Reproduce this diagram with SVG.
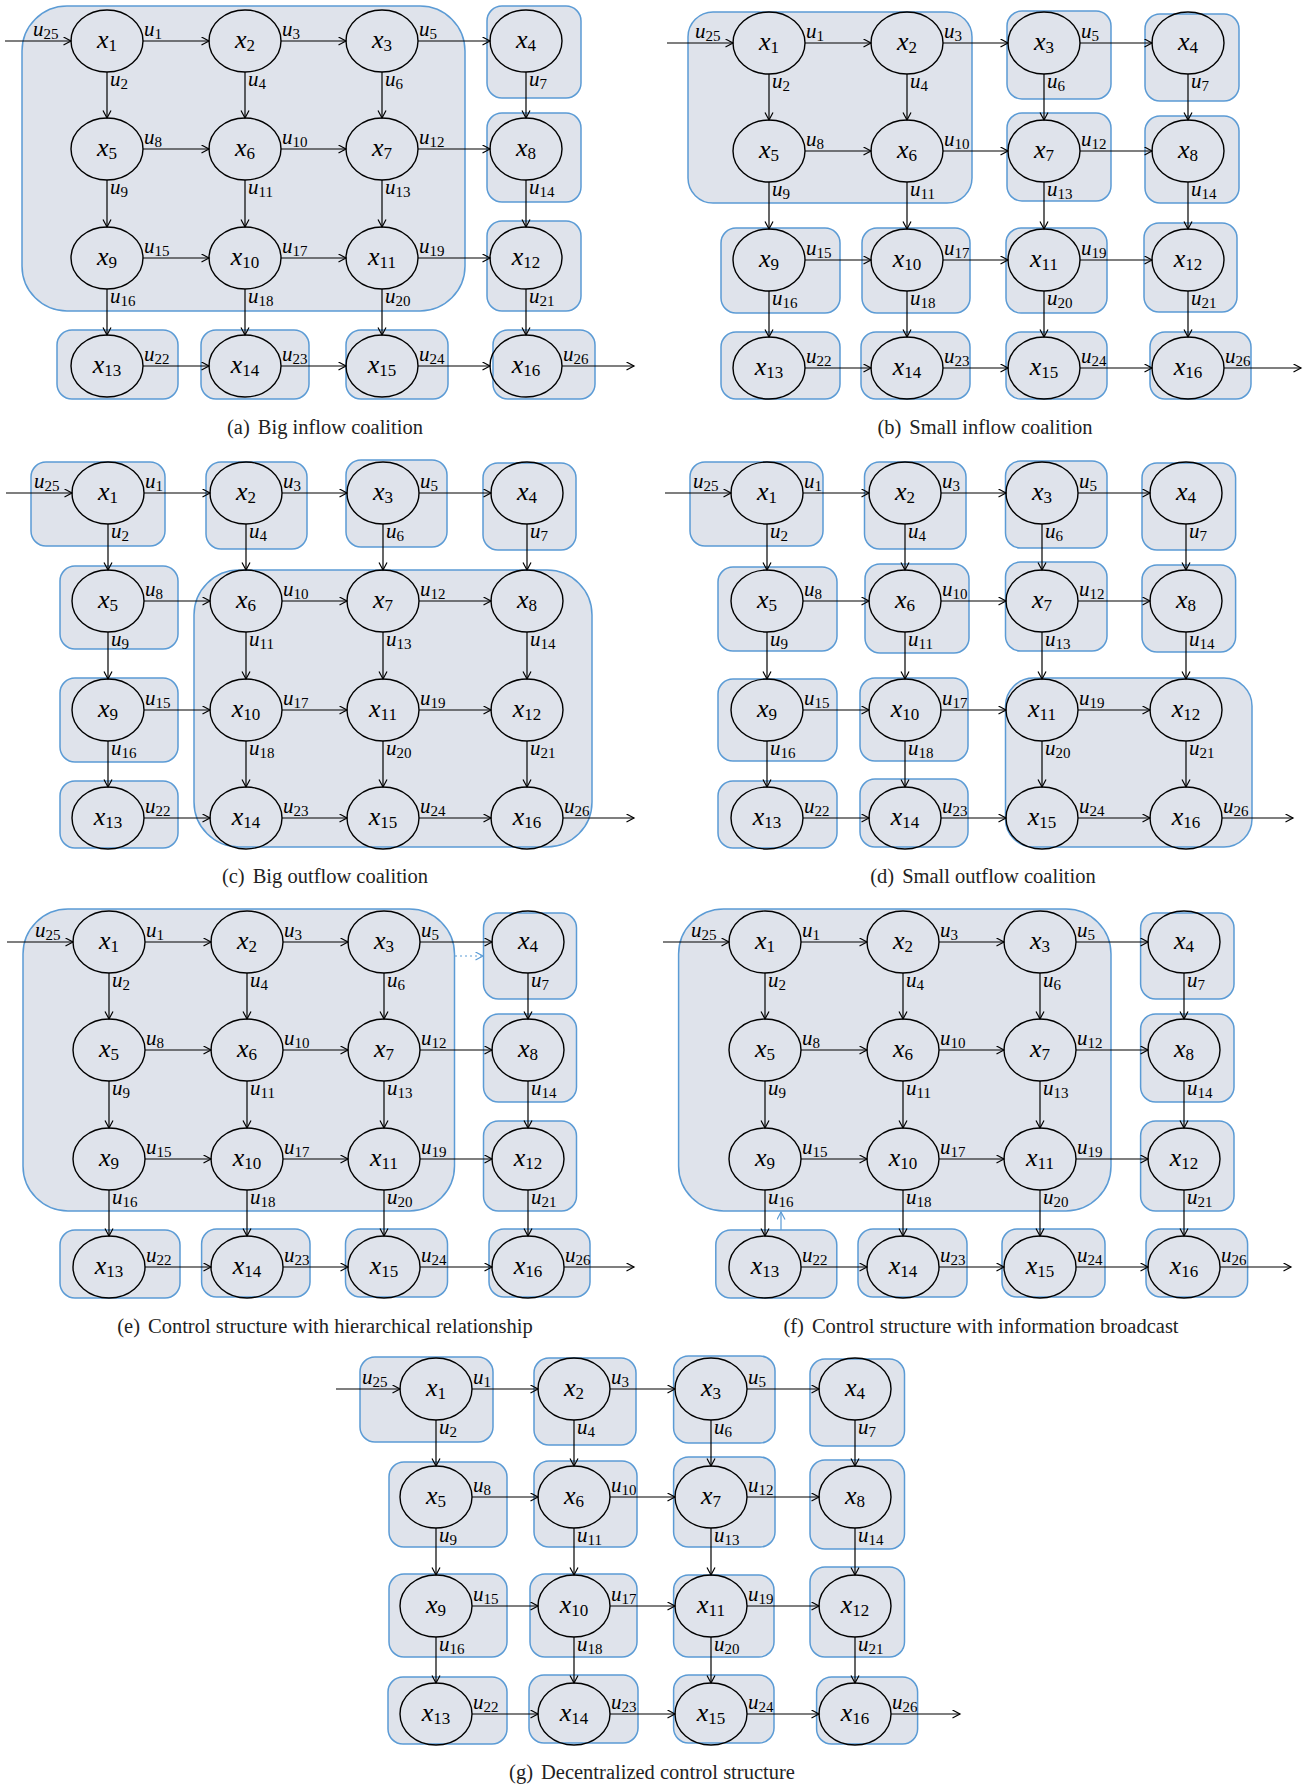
<svg xmlns="http://www.w3.org/2000/svg" width="1308" height="1785" viewBox="0 0 1308 1785">
<defs>
<style>
.bx{fill:#dfe3eb;stroke:#5b9bd5;stroke-width:1.5}
.c path{fill:none;stroke:#000;stroke-width:1.2;marker-end:url(#ah)}
.c path.bl{stroke:#5b9bd5;marker-end:url(#ahb)}
.c path.dt{stroke-dasharray:2 3}
.c text{font-family:"Liberation Serif",serif;font-style:italic;font-size:21px;fill:#000}
.c tspan{font-style:normal;font-size:15px}
.nd ellipse{fill:none;stroke:#000;stroke-width:1.4}
.nd text{font-family:"Liberation Serif",serif;font-style:italic;font-size:26px;text-anchor:middle;fill:#000}
.nd tspan{font-style:normal;font-size:17px}
.cap{font-family:"Liberation Serif",serif;font-size:20.5px;text-anchor:middle;fill:#222}
</style>
<marker id="ah" markerWidth="10" markerHeight="10" refX="8" refY="4.5" orient="auto" markerUnits="userSpaceOnUse"><path d="M0.5,0.5 L8,4.5 L0.5,8.5" fill="none" stroke="#000" stroke-width="1.2"/></marker>
<marker id="ahb" markerWidth="10" markerHeight="10" refX="8" refY="4.5" orient="auto" markerUnits="userSpaceOnUse"><path d="M0.5,0.5 L8,4.5 L0.5,8.5" fill="none" stroke="#5b9bd5" stroke-width="1.2"/></marker>
</defs>
<rect width="1308" height="1785" fill="#fff"/>

<!-- Panel (a) -->
<g id="panel-a" transform="translate(107,41)">
<g id="a-coalitions">
<rect class="bx" x="-85" y="-35" width="443" height="305" rx="45"/>
<rect class="bx" x="380" y="-35" width="94" height="92" rx="15"/>
<rect class="bx" x="380" y="72" width="94" height="89" rx="15"/>
<rect class="bx" x="380" y="180" width="94" height="90" rx="15"/>
<rect class="bx" x="-50" y="289" width="121" height="69" rx="15"/>
<rect class="bx" x="94" y="289" width="108" height="69" rx="15"/>
<rect class="bx" x="239" y="289" width="102" height="69" rx="15"/>
<rect class="bx" x="386" y="289" width="102" height="69" rx="15"/>
</g>
<g id="a-connectors" class="c">
<path d="M-102 0H-36"/><path d="M36 0H102"/><path d="M174 0H239"/><path d="M311 0H383"/>
<path d="M36 108H102"/><path d="M174 108H239"/><path d="M311 108H383"/>
<path d="M36 217H102"/><path d="M174 217H239"/><path d="M311 217H383"/>
<path d="M36 325H102"/><path d="M174 325H239"/><path d="M311 325H383"/><path d="M455 325H527"/>
<path d="M0 31V77"/><path d="M138 31V77"/><path d="M275 31V77"/><path d="M419 31V77"/>
<path d="M0 139V186"/><path d="M138 139V186"/><path d="M275 139V186"/><path d="M419 139V186"/>
<path d="M0 248V294"/><path d="M138 248V294"/><path d="M275 248V294"/><path d="M419 248V294"/>
<text x="-74" y="-5">u<tspan dy="3">25</tspan></text>
<text x="37" y="-5">u<tspan dy="3">1</tspan></text><text x="175" y="-5">u<tspan dy="3">3</tspan></text><text x="312" y="-5">u<tspan dy="3">5</tspan></text>
<text x="3" y="45">u<tspan dy="3">2</tspan></text><text x="141" y="45">u<tspan dy="3">4</tspan></text><text x="278" y="45">u<tspan dy="3">6</tspan></text><text x="422" y="45">u<tspan dy="3">7</tspan></text>
<text x="37" y="103">u<tspan dy="3">8</tspan></text><text x="175" y="103">u<tspan dy="3">10</tspan></text><text x="312" y="103">u<tspan dy="3">12</tspan></text>
<text x="3" y="153">u<tspan dy="3">9</tspan></text><text x="141" y="153">u<tspan dy="3">11</tspan></text><text x="278" y="153">u<tspan dy="3">13</tspan></text><text x="422" y="153">u<tspan dy="3">14</tspan></text>
<text x="37" y="212">u<tspan dy="3">15</tspan></text><text x="175" y="212">u<tspan dy="3">17</tspan></text><text x="312" y="212">u<tspan dy="3">19</tspan></text>
<text x="3" y="262">u<tspan dy="3">16</tspan></text><text x="141" y="262">u<tspan dy="3">18</tspan></text><text x="278" y="262">u<tspan dy="3">20</tspan></text><text x="422" y="262">u<tspan dy="3">21</tspan></text>
<text x="37" y="320">u<tspan dy="3">22</tspan></text><text x="175" y="320">u<tspan dy="3">23</tspan></text><text x="312" y="320">u<tspan dy="3">24</tspan></text><text x="456" y="320">u<tspan dy="3">26</tspan></text>
</g>
<g id="a-nodes" class="nd">
<g id="a-x1"><ellipse cx="0" cy="0" rx="36" ry="31"/><text x="0" y="7">x<tspan dy="3">1</tspan></text></g>
<g id="a-x2"><ellipse cx="138" cy="0" rx="36" ry="31"/><text x="138" y="7">x<tspan dy="3">2</tspan></text></g>
<g id="a-x3"><ellipse cx="275" cy="0" rx="36" ry="31"/><text x="275" y="7">x<tspan dy="3">3</tspan></text></g>
<g id="a-x4"><ellipse cx="419" cy="0" rx="36" ry="31"/><text x="419" y="7">x<tspan dy="3">4</tspan></text></g>
<g id="a-x5"><ellipse cx="0" cy="108" rx="36" ry="31"/><text x="0" y="115">x<tspan dy="3">5</tspan></text></g>
<g id="a-x6"><ellipse cx="138" cy="108" rx="36" ry="31"/><text x="138" y="115">x<tspan dy="3">6</tspan></text></g>
<g id="a-x7"><ellipse cx="275" cy="108" rx="36" ry="31"/><text x="275" y="115">x<tspan dy="3">7</tspan></text></g>
<g id="a-x8"><ellipse cx="419" cy="108" rx="36" ry="31"/><text x="419" y="115">x<tspan dy="3">8</tspan></text></g>
<g id="a-x9"><ellipse cx="0" cy="217" rx="36" ry="31"/><text x="0" y="224">x<tspan dy="3">9</tspan></text></g>
<g id="a-x10"><ellipse cx="138" cy="217" rx="36" ry="31"/><text x="138" y="224">x<tspan dy="3">10</tspan></text></g>
<g id="a-x11"><ellipse cx="275" cy="217" rx="36" ry="31"/><text x="275" y="224">x<tspan dy="3">11</tspan></text></g>
<g id="a-x12"><ellipse cx="419" cy="217" rx="36" ry="31"/><text x="419" y="224">x<tspan dy="3">12</tspan></text></g>
<g id="a-x13"><ellipse cx="0" cy="325" rx="36" ry="31"/><text x="0" y="332">x<tspan dy="3">13</tspan></text></g>
<g id="a-x14"><ellipse cx="138" cy="325" rx="36" ry="31"/><text x="138" y="332">x<tspan dy="3">14</tspan></text></g>
<g id="a-x15"><ellipse cx="275" cy="325" rx="36" ry="31"/><text x="275" y="332">x<tspan dy="3">15</tspan></text></g>
<g id="a-x16"><ellipse cx="419" cy="325" rx="36" ry="31"/><text x="419" y="332">x<tspan dy="3">16</tspan></text></g>
</g>
</g>

<!-- Panel (b) -->
<g id="panel-b" transform="translate(769,43)">
<g id="b-coalitions">
<rect class="bx" x="-81" y="-31" width="284" height="191" rx="25"/>
<rect class="bx" x="238" y="-32" width="104" height="88" rx="15"/>
<rect class="bx" x="376" y="-29" width="94" height="87" rx="15"/>
<rect class="bx" x="238" y="70" width="104" height="88" rx="15"/>
<rect class="bx" x="376" y="73" width="94" height="87" rx="15"/>
<rect class="bx" x="-48" y="185" width="119" height="85" rx="15"/>
<rect class="bx" x="93" y="185" width="108" height="85" rx="15"/>
<rect class="bx" x="237" y="185" width="101" height="85" rx="15"/>
<rect class="bx" x="375" y="180" width="93" height="89" rx="15"/>
<rect class="bx" x="-48" y="289" width="119" height="67" rx="15"/>
<rect class="bx" x="92" y="289" width="109" height="67" rx="15"/>
<rect class="bx" x="237" y="289" width="101" height="67" rx="15"/>
<rect class="bx" x="381" y="289" width="101" height="67" rx="15"/>
</g>
<g id="b-connectors" class="c">
<path d="M-102 0H-36"/><path d="M36 0H102"/><path d="M174 0H239"/><path d="M311 0H383"/>
<path d="M36 108H102"/><path d="M174 108H239"/><path d="M311 108H383"/>
<path d="M36 217H102"/><path d="M174 217H239"/><path d="M311 217H383"/>
<path d="M36 325H102"/><path d="M174 325H239"/><path d="M311 325H383"/><path d="M455 325H532"/>
<path d="M0 31V77"/><path d="M138 31V77"/><path d="M275 31V77"/><path d="M419 31V77"/>
<path d="M0 139V186"/><path d="M138 139V186"/><path d="M275 139V186"/><path d="M419 139V186"/>
<path d="M0 248V294"/><path d="M138 248V294"/><path d="M275 248V294"/><path d="M419 248V294"/>
<text x="-74" y="-5">u<tspan dy="3">25</tspan></text>
<text x="37" y="-5">u<tspan dy="3">1</tspan></text><text x="175" y="-5">u<tspan dy="3">3</tspan></text><text x="312" y="-5">u<tspan dy="3">5</tspan></text>
<text x="3" y="45">u<tspan dy="3">2</tspan></text><text x="141" y="45">u<tspan dy="3">4</tspan></text><text x="278" y="45">u<tspan dy="3">6</tspan></text><text x="422" y="45">u<tspan dy="3">7</tspan></text>
<text x="37" y="103">u<tspan dy="3">8</tspan></text><text x="175" y="103">u<tspan dy="3">10</tspan></text><text x="312" y="103">u<tspan dy="3">12</tspan></text>
<text x="3" y="153">u<tspan dy="3">9</tspan></text><text x="141" y="153">u<tspan dy="3">11</tspan></text><text x="278" y="153">u<tspan dy="3">13</tspan></text><text x="422" y="153">u<tspan dy="3">14</tspan></text>
<text x="37" y="212">u<tspan dy="3">15</tspan></text><text x="175" y="212">u<tspan dy="3">17</tspan></text><text x="312" y="212">u<tspan dy="3">19</tspan></text>
<text x="3" y="262">u<tspan dy="3">16</tspan></text><text x="141" y="262">u<tspan dy="3">18</tspan></text><text x="278" y="262">u<tspan dy="3">20</tspan></text><text x="422" y="262">u<tspan dy="3">21</tspan></text>
<text x="37" y="320">u<tspan dy="3">22</tspan></text><text x="175" y="320">u<tspan dy="3">23</tspan></text><text x="312" y="320">u<tspan dy="3">24</tspan></text><text x="456" y="320">u<tspan dy="3">26</tspan></text>
</g>
<g id="b-nodes" class="nd">
<g id="b-x1"><ellipse cx="0" cy="0" rx="36" ry="31"/><text x="0" y="7">x<tspan dy="3">1</tspan></text></g>
<g id="b-x2"><ellipse cx="138" cy="0" rx="36" ry="31"/><text x="138" y="7">x<tspan dy="3">2</tspan></text></g>
<g id="b-x3"><ellipse cx="275" cy="0" rx="36" ry="31"/><text x="275" y="7">x<tspan dy="3">3</tspan></text></g>
<g id="b-x4"><ellipse cx="419" cy="0" rx="36" ry="31"/><text x="419" y="7">x<tspan dy="3">4</tspan></text></g>
<g id="b-x5"><ellipse cx="0" cy="108" rx="36" ry="31"/><text x="0" y="115">x<tspan dy="3">5</tspan></text></g>
<g id="b-x6"><ellipse cx="138" cy="108" rx="36" ry="31"/><text x="138" y="115">x<tspan dy="3">6</tspan></text></g>
<g id="b-x7"><ellipse cx="275" cy="108" rx="36" ry="31"/><text x="275" y="115">x<tspan dy="3">7</tspan></text></g>
<g id="b-x8"><ellipse cx="419" cy="108" rx="36" ry="31"/><text x="419" y="115">x<tspan dy="3">8</tspan></text></g>
<g id="b-x9"><ellipse cx="0" cy="217" rx="36" ry="31"/><text x="0" y="224">x<tspan dy="3">9</tspan></text></g>
<g id="b-x10"><ellipse cx="138" cy="217" rx="36" ry="31"/><text x="138" y="224">x<tspan dy="3">10</tspan></text></g>
<g id="b-x11"><ellipse cx="275" cy="217" rx="36" ry="31"/><text x="275" y="224">x<tspan dy="3">11</tspan></text></g>
<g id="b-x12"><ellipse cx="419" cy="217" rx="36" ry="31"/><text x="419" y="224">x<tspan dy="3">12</tspan></text></g>
<g id="b-x13"><ellipse cx="0" cy="325" rx="36" ry="31"/><text x="0" y="332">x<tspan dy="3">13</tspan></text></g>
<g id="b-x14"><ellipse cx="138" cy="325" rx="36" ry="31"/><text x="138" y="332">x<tspan dy="3">14</tspan></text></g>
<g id="b-x15"><ellipse cx="275" cy="325" rx="36" ry="31"/><text x="275" y="332">x<tspan dy="3">15</tspan></text></g>
<g id="b-x16"><ellipse cx="419" cy="325" rx="36" ry="31"/><text x="419" y="332">x<tspan dy="3">16</tspan></text></g>
</g>
</g>

<!-- Panel (c) -->
<g id="panel-c" transform="translate(108,493)">
<g id="c-coalitions">
<rect class="bx" x="86" y="77" width="398" height="277" rx="45"/>
<rect class="bx" x="-77" y="-31" width="134" height="84" rx="15"/>
<rect class="bx" x="98" y="-31" width="101" height="87" rx="15"/>
<rect class="bx" x="238" y="-33" width="101" height="87" rx="15"/>
<rect class="bx" x="375" y="-30" width="93" height="87" rx="15"/>
<rect class="bx" x="-48" y="73" width="118" height="83" rx="15"/>
<rect class="bx" x="-48" y="185" width="118" height="84" rx="15"/>
<rect class="bx" x="-48" y="288" width="118" height="67" rx="15"/>
</g>
<g id="c-connectors" class="c">
<path d="M-102 0H-36"/><path d="M36 0H102"/><path d="M174 0H239"/><path d="M311 0H383"/>
<path d="M36 108H102"/><path d="M174 108H239"/><path d="M311 108H383"/>
<path d="M36 217H102"/><path d="M174 217H239"/><path d="M311 217H383"/>
<path d="M36 325H102"/><path d="M174 325H239"/><path d="M311 325H383"/><path d="M455 325H526"/>
<path d="M0 31V77"/><path d="M138 31V77"/><path d="M275 31V77"/><path d="M419 31V77"/>
<path d="M0 139V186"/><path d="M138 139V186"/><path d="M275 139V186"/><path d="M419 139V186"/>
<path d="M0 248V294"/><path d="M138 248V294"/><path d="M275 248V294"/><path d="M419 248V294"/>
<text x="-74" y="-5">u<tspan dy="3">25</tspan></text>
<text x="37" y="-5">u<tspan dy="3">1</tspan></text><text x="175" y="-5">u<tspan dy="3">3</tspan></text><text x="312" y="-5">u<tspan dy="3">5</tspan></text>
<text x="3" y="45">u<tspan dy="3">2</tspan></text><text x="141" y="45">u<tspan dy="3">4</tspan></text><text x="278" y="45">u<tspan dy="3">6</tspan></text><text x="422" y="45">u<tspan dy="3">7</tspan></text>
<text x="37" y="103">u<tspan dy="3">8</tspan></text><text x="175" y="103">u<tspan dy="3">10</tspan></text><text x="312" y="103">u<tspan dy="3">12</tspan></text>
<text x="3" y="153">u<tspan dy="3">9</tspan></text><text x="141" y="153">u<tspan dy="3">11</tspan></text><text x="278" y="153">u<tspan dy="3">13</tspan></text><text x="422" y="153">u<tspan dy="3">14</tspan></text>
<text x="37" y="212">u<tspan dy="3">15</tspan></text><text x="175" y="212">u<tspan dy="3">17</tspan></text><text x="312" y="212">u<tspan dy="3">19</tspan></text>
<text x="3" y="262">u<tspan dy="3">16</tspan></text><text x="141" y="262">u<tspan dy="3">18</tspan></text><text x="278" y="262">u<tspan dy="3">20</tspan></text><text x="422" y="262">u<tspan dy="3">21</tspan></text>
<text x="37" y="320">u<tspan dy="3">22</tspan></text><text x="175" y="320">u<tspan dy="3">23</tspan></text><text x="312" y="320">u<tspan dy="3">24</tspan></text><text x="456" y="320">u<tspan dy="3">26</tspan></text>
</g>
<g id="c-nodes" class="nd">
<g id="c-x1"><ellipse cx="0" cy="0" rx="36" ry="31"/><text x="0" y="7">x<tspan dy="3">1</tspan></text></g>
<g id="c-x2"><ellipse cx="138" cy="0" rx="36" ry="31"/><text x="138" y="7">x<tspan dy="3">2</tspan></text></g>
<g id="c-x3"><ellipse cx="275" cy="0" rx="36" ry="31"/><text x="275" y="7">x<tspan dy="3">3</tspan></text></g>
<g id="c-x4"><ellipse cx="419" cy="0" rx="36" ry="31"/><text x="419" y="7">x<tspan dy="3">4</tspan></text></g>
<g id="c-x5"><ellipse cx="0" cy="108" rx="36" ry="31"/><text x="0" y="115">x<tspan dy="3">5</tspan></text></g>
<g id="c-x6"><ellipse cx="138" cy="108" rx="36" ry="31"/><text x="138" y="115">x<tspan dy="3">6</tspan></text></g>
<g id="c-x7"><ellipse cx="275" cy="108" rx="36" ry="31"/><text x="275" y="115">x<tspan dy="3">7</tspan></text></g>
<g id="c-x8"><ellipse cx="419" cy="108" rx="36" ry="31"/><text x="419" y="115">x<tspan dy="3">8</tspan></text></g>
<g id="c-x9"><ellipse cx="0" cy="217" rx="36" ry="31"/><text x="0" y="224">x<tspan dy="3">9</tspan></text></g>
<g id="c-x10"><ellipse cx="138" cy="217" rx="36" ry="31"/><text x="138" y="224">x<tspan dy="3">10</tspan></text></g>
<g id="c-x11"><ellipse cx="275" cy="217" rx="36" ry="31"/><text x="275" y="224">x<tspan dy="3">11</tspan></text></g>
<g id="c-x12"><ellipse cx="419" cy="217" rx="36" ry="31"/><text x="419" y="224">x<tspan dy="3">12</tspan></text></g>
<g id="c-x13"><ellipse cx="0" cy="325" rx="36" ry="31"/><text x="0" y="332">x<tspan dy="3">13</tspan></text></g>
<g id="c-x14"><ellipse cx="138" cy="325" rx="36" ry="31"/><text x="138" y="332">x<tspan dy="3">14</tspan></text></g>
<g id="c-x15"><ellipse cx="275" cy="325" rx="36" ry="31"/><text x="275" y="332">x<tspan dy="3">15</tspan></text></g>
<g id="c-x16"><ellipse cx="419" cy="325" rx="36" ry="31"/><text x="419" y="332">x<tspan dy="3">16</tspan></text></g>
</g>
</g>

<!-- Panel (d) -->
<g id="panel-d" transform="translate(767,493)">
<g id="d-coalitions">
<rect class="bx" x="238.5" y="185" width="246.5" height="169" rx="28"/>
<rect class="bx" x="-77" y="-31" width="133" height="84" rx="15"/>
<rect class="bx" x="97.5" y="-31" width="101.5" height="87" rx="15"/>
<rect class="bx" x="238.5" y="-32" width="101.5" height="87" rx="15"/>
<rect class="bx" x="375" y="-30" width="93.6" height="87" rx="15"/>
<rect class="bx" x="-49" y="74" width="119" height="84" rx="15"/>
<rect class="bx" x="98" y="71" width="104" height="89" rx="15"/>
<rect class="bx" x="238.5" y="69" width="101.5" height="89" rx="15"/>
<rect class="bx" x="375" y="72" width="93.6" height="87" rx="15"/>
<rect class="bx" x="-49" y="186" width="119" height="82" rx="15"/>
<rect class="bx" x="93" y="185" width="108" height="83" rx="15"/>
<rect class="bx" x="-49" y="288" width="119" height="67" rx="15"/>
<rect class="bx" x="93" y="286" width="108" height="68" rx="15"/>
</g>
<g id="d-connectors" class="c">
<path d="M-102 0H-36"/><path d="M36 0H102"/><path d="M174 0H239"/><path d="M311 0H383"/>
<path d="M36 108H102"/><path d="M174 108H239"/><path d="M311 108H383"/>
<path d="M36 217H102"/><path d="M174 217H239"/><path d="M311 217H383"/>
<path d="M36 325H102"/><path d="M174 325H239"/><path d="M311 325H383"/><path d="M455 325H526"/>
<path d="M0 31V77"/><path d="M138 31V77"/><path d="M275 31V77"/><path d="M419 31V77"/>
<path d="M0 139V186"/><path d="M138 139V186"/><path d="M275 139V186"/><path d="M419 139V186"/>
<path d="M0 248V294"/><path d="M138 248V294"/><path d="M275 248V294"/><path d="M419 248V294"/>
<text x="-74" y="-5">u<tspan dy="3">25</tspan></text>
<text x="37" y="-5">u<tspan dy="3">1</tspan></text><text x="175" y="-5">u<tspan dy="3">3</tspan></text><text x="312" y="-5">u<tspan dy="3">5</tspan></text>
<text x="3" y="45">u<tspan dy="3">2</tspan></text><text x="141" y="45">u<tspan dy="3">4</tspan></text><text x="278" y="45">u<tspan dy="3">6</tspan></text><text x="422" y="45">u<tspan dy="3">7</tspan></text>
<text x="37" y="103">u<tspan dy="3">8</tspan></text><text x="175" y="103">u<tspan dy="3">10</tspan></text><text x="312" y="103">u<tspan dy="3">12</tspan></text>
<text x="3" y="153">u<tspan dy="3">9</tspan></text><text x="141" y="153">u<tspan dy="3">11</tspan></text><text x="278" y="153">u<tspan dy="3">13</tspan></text><text x="422" y="153">u<tspan dy="3">14</tspan></text>
<text x="37" y="212">u<tspan dy="3">15</tspan></text><text x="175" y="212">u<tspan dy="3">17</tspan></text><text x="312" y="212">u<tspan dy="3">19</tspan></text>
<text x="3" y="262">u<tspan dy="3">16</tspan></text><text x="141" y="262">u<tspan dy="3">18</tspan></text><text x="278" y="262">u<tspan dy="3">20</tspan></text><text x="422" y="262">u<tspan dy="3">21</tspan></text>
<text x="37" y="320">u<tspan dy="3">22</tspan></text><text x="175" y="320">u<tspan dy="3">23</tspan></text><text x="312" y="320">u<tspan dy="3">24</tspan></text><text x="456" y="320">u<tspan dy="3">26</tspan></text>
</g>
<g id="d-nodes" class="nd">
<g id="d-x1"><ellipse cx="0" cy="0" rx="36" ry="31"/><text x="0" y="7">x<tspan dy="3">1</tspan></text></g>
<g id="d-x2"><ellipse cx="138" cy="0" rx="36" ry="31"/><text x="138" y="7">x<tspan dy="3">2</tspan></text></g>
<g id="d-x3"><ellipse cx="275" cy="0" rx="36" ry="31"/><text x="275" y="7">x<tspan dy="3">3</tspan></text></g>
<g id="d-x4"><ellipse cx="419" cy="0" rx="36" ry="31"/><text x="419" y="7">x<tspan dy="3">4</tspan></text></g>
<g id="d-x5"><ellipse cx="0" cy="108" rx="36" ry="31"/><text x="0" y="115">x<tspan dy="3">5</tspan></text></g>
<g id="d-x6"><ellipse cx="138" cy="108" rx="36" ry="31"/><text x="138" y="115">x<tspan dy="3">6</tspan></text></g>
<g id="d-x7"><ellipse cx="275" cy="108" rx="36" ry="31"/><text x="275" y="115">x<tspan dy="3">7</tspan></text></g>
<g id="d-x8"><ellipse cx="419" cy="108" rx="36" ry="31"/><text x="419" y="115">x<tspan dy="3">8</tspan></text></g>
<g id="d-x9"><ellipse cx="0" cy="217" rx="36" ry="31"/><text x="0" y="224">x<tspan dy="3">9</tspan></text></g>
<g id="d-x10"><ellipse cx="138" cy="217" rx="36" ry="31"/><text x="138" y="224">x<tspan dy="3">10</tspan></text></g>
<g id="d-x11"><ellipse cx="275" cy="217" rx="36" ry="31"/><text x="275" y="224">x<tspan dy="3">11</tspan></text></g>
<g id="d-x12"><ellipse cx="419" cy="217" rx="36" ry="31"/><text x="419" y="224">x<tspan dy="3">12</tspan></text></g>
<g id="d-x13"><ellipse cx="0" cy="325" rx="36" ry="31"/><text x="0" y="332">x<tspan dy="3">13</tspan></text></g>
<g id="d-x14"><ellipse cx="138" cy="325" rx="36" ry="31"/><text x="138" y="332">x<tspan dy="3">14</tspan></text></g>
<g id="d-x15"><ellipse cx="275" cy="325" rx="36" ry="31"/><text x="275" y="332">x<tspan dy="3">15</tspan></text></g>
<g id="d-x16"><ellipse cx="419" cy="325" rx="36" ry="31"/><text x="419" y="332">x<tspan dy="3">16</tspan></text></g>
</g>
</g>

<!-- Panel (e) -->
<g id="panel-e" transform="translate(109,942)">
<g id="e-coalitions">
<rect class="bx" x="-86" y="-33" width="431.5" height="302" rx="45"/>
<rect class="bx" x="374.5" y="-29" width="93" height="86" rx="15"/>
<rect class="bx" x="374.5" y="72" width="93" height="88" rx="15"/>
<rect class="bx" x="374.5" y="179" width="93" height="90" rx="15"/>
<rect class="bx" x="-49" y="288" width="120" height="68" rx="15"/>
<rect class="bx" x="92.6" y="287" width="108.4" height="68" rx="15"/>
<rect class="bx" x="236.5" y="287" width="102" height="68" rx="15"/>
<rect class="bx" x="380" y="287" width="101" height="68" rx="15"/>
</g>
<g id="e-connectors" class="c">
<path d="M-102 0H-36"/><path d="M36 0H102"/><path d="M174 0H239"/><path d="M311 0H383"/>
<path d="M36 108H102"/><path d="M174 108H239"/><path d="M311 108H383"/>
<path d="M36 217H102"/><path d="M174 217H239"/><path d="M311 217H383"/>
<path d="M36 325H102"/><path d="M174 325H239"/><path d="M311 325H383"/><path d="M455 325H525"/>
<path d="M0 31V77"/><path d="M138 31V77"/><path d="M275 31V77"/><path d="M419 31V77"/>
<path d="M0 139V186"/><path d="M138 139V186"/><path d="M275 139V186"/><path d="M419 139V186"/>
<path d="M0 248V294"/><path d="M138 248V294"/><path d="M275 248V294"/><path d="M419 248V294"/>
<path class="bl dt" d="M346 14H374"/>
<text x="-74" y="-5">u<tspan dy="3">25</tspan></text>
<text x="37" y="-5">u<tspan dy="3">1</tspan></text><text x="175" y="-5">u<tspan dy="3">3</tspan></text><text x="312" y="-5">u<tspan dy="3">5</tspan></text>
<text x="3" y="45">u<tspan dy="3">2</tspan></text><text x="141" y="45">u<tspan dy="3">4</tspan></text><text x="278" y="45">u<tspan dy="3">6</tspan></text><text x="422" y="45">u<tspan dy="3">7</tspan></text>
<text x="37" y="103">u<tspan dy="3">8</tspan></text><text x="175" y="103">u<tspan dy="3">10</tspan></text><text x="312" y="103">u<tspan dy="3">12</tspan></text>
<text x="3" y="153">u<tspan dy="3">9</tspan></text><text x="141" y="153">u<tspan dy="3">11</tspan></text><text x="278" y="153">u<tspan dy="3">13</tspan></text><text x="422" y="153">u<tspan dy="3">14</tspan></text>
<text x="37" y="212">u<tspan dy="3">15</tspan></text><text x="175" y="212">u<tspan dy="3">17</tspan></text><text x="312" y="212">u<tspan dy="3">19</tspan></text>
<text x="3" y="262">u<tspan dy="3">16</tspan></text><text x="141" y="262">u<tspan dy="3">18</tspan></text><text x="278" y="262">u<tspan dy="3">20</tspan></text><text x="422" y="262">u<tspan dy="3">21</tspan></text>
<text x="37" y="320">u<tspan dy="3">22</tspan></text><text x="175" y="320">u<tspan dy="3">23</tspan></text><text x="312" y="320">u<tspan dy="3">24</tspan></text><text x="456" y="320">u<tspan dy="3">26</tspan></text>
</g>
<g id="e-nodes" class="nd">
<g id="e-x1"><ellipse cx="0" cy="0" rx="36" ry="31"/><text x="0" y="7">x<tspan dy="3">1</tspan></text></g>
<g id="e-x2"><ellipse cx="138" cy="0" rx="36" ry="31"/><text x="138" y="7">x<tspan dy="3">2</tspan></text></g>
<g id="e-x3"><ellipse cx="275" cy="0" rx="36" ry="31"/><text x="275" y="7">x<tspan dy="3">3</tspan></text></g>
<g id="e-x4"><ellipse cx="419" cy="0" rx="36" ry="31"/><text x="419" y="7">x<tspan dy="3">4</tspan></text></g>
<g id="e-x5"><ellipse cx="0" cy="108" rx="36" ry="31"/><text x="0" y="115">x<tspan dy="3">5</tspan></text></g>
<g id="e-x6"><ellipse cx="138" cy="108" rx="36" ry="31"/><text x="138" y="115">x<tspan dy="3">6</tspan></text></g>
<g id="e-x7"><ellipse cx="275" cy="108" rx="36" ry="31"/><text x="275" y="115">x<tspan dy="3">7</tspan></text></g>
<g id="e-x8"><ellipse cx="419" cy="108" rx="36" ry="31"/><text x="419" y="115">x<tspan dy="3">8</tspan></text></g>
<g id="e-x9"><ellipse cx="0" cy="217" rx="36" ry="31"/><text x="0" y="224">x<tspan dy="3">9</tspan></text></g>
<g id="e-x10"><ellipse cx="138" cy="217" rx="36" ry="31"/><text x="138" y="224">x<tspan dy="3">10</tspan></text></g>
<g id="e-x11"><ellipse cx="275" cy="217" rx="36" ry="31"/><text x="275" y="224">x<tspan dy="3">11</tspan></text></g>
<g id="e-x12"><ellipse cx="419" cy="217" rx="36" ry="31"/><text x="419" y="224">x<tspan dy="3">12</tspan></text></g>
<g id="e-x13"><ellipse cx="0" cy="325" rx="36" ry="31"/><text x="0" y="332">x<tspan dy="3">13</tspan></text></g>
<g id="e-x14"><ellipse cx="138" cy="325" rx="36" ry="31"/><text x="138" y="332">x<tspan dy="3">14</tspan></text></g>
<g id="e-x15"><ellipse cx="275" cy="325" rx="36" ry="31"/><text x="275" y="332">x<tspan dy="3">15</tspan></text></g>
<g id="e-x16"><ellipse cx="419" cy="325" rx="36" ry="31"/><text x="419" y="332">x<tspan dy="3">16</tspan></text></g>
</g>
</g>

<!-- Panel (f) -->
<g id="panel-f" transform="translate(765,942)">
<g id="f-coalitions">
<rect class="bx" x="-86.4" y="-33" width="432.4" height="302" rx="45"/>
<rect class="bx" x="375.6" y="-29" width="93.4" height="86" rx="15"/>
<rect class="bx" x="375.6" y="72" width="93.4" height="88" rx="15"/>
<rect class="bx" x="375.6" y="179" width="93.4" height="90" rx="15"/>
<rect class="bx" x="-49.2" y="288" width="121" height="68" rx="15"/>
<rect class="bx" x="93" y="287" width="109" height="68" rx="15"/>
<rect class="bx" x="237" y="287" width="103" height="68" rx="15"/>
<rect class="bx" x="381" y="287" width="101.6" height="68" rx="15"/>
</g>
<g id="f-connectors" class="c">
<path d="M-102 0H-36"/><path d="M36 0H102"/><path d="M174 0H239"/><path d="M311 0H383"/>
<path d="M36 108H102"/><path d="M174 108H239"/><path d="M311 108H383"/>
<path d="M36 217H102"/><path d="M174 217H239"/><path d="M311 217H383"/>
<path d="M36 325H102"/><path d="M174 325H239"/><path d="M311 325H383"/><path d="M455 325H526"/>
<path d="M0 31V77"/><path d="M138 31V77"/><path d="M275 31V77"/><path d="M419 31V77"/>
<path d="M0 139V186"/><path d="M138 139V186"/><path d="M275 139V186"/><path d="M419 139V186"/>
<path d="M0 248V294"/><path d="M138 248V294"/><path d="M275 248V294"/><path d="M419 248V294"/>
<path class="bl" d="M16 288V270"/>
<text x="-74" y="-5">u<tspan dy="3">25</tspan></text>
<text x="37" y="-5">u<tspan dy="3">1</tspan></text><text x="175" y="-5">u<tspan dy="3">3</tspan></text><text x="312" y="-5">u<tspan dy="3">5</tspan></text>
<text x="3" y="45">u<tspan dy="3">2</tspan></text><text x="141" y="45">u<tspan dy="3">4</tspan></text><text x="278" y="45">u<tspan dy="3">6</tspan></text><text x="422" y="45">u<tspan dy="3">7</tspan></text>
<text x="37" y="103">u<tspan dy="3">8</tspan></text><text x="175" y="103">u<tspan dy="3">10</tspan></text><text x="312" y="103">u<tspan dy="3">12</tspan></text>
<text x="3" y="153">u<tspan dy="3">9</tspan></text><text x="141" y="153">u<tspan dy="3">11</tspan></text><text x="278" y="153">u<tspan dy="3">13</tspan></text><text x="422" y="153">u<tspan dy="3">14</tspan></text>
<text x="37" y="212">u<tspan dy="3">15</tspan></text><text x="175" y="212">u<tspan dy="3">17</tspan></text><text x="312" y="212">u<tspan dy="3">19</tspan></text>
<text x="3" y="262">u<tspan dy="3">16</tspan></text><text x="141" y="262">u<tspan dy="3">18</tspan></text><text x="278" y="262">u<tspan dy="3">20</tspan></text><text x="422" y="262">u<tspan dy="3">21</tspan></text>
<text x="37" y="320">u<tspan dy="3">22</tspan></text><text x="175" y="320">u<tspan dy="3">23</tspan></text><text x="312" y="320">u<tspan dy="3">24</tspan></text><text x="456" y="320">u<tspan dy="3">26</tspan></text>
</g>
<g id="f-nodes" class="nd">
<g id="f-x1"><ellipse cx="0" cy="0" rx="36" ry="31"/><text x="0" y="7">x<tspan dy="3">1</tspan></text></g>
<g id="f-x2"><ellipse cx="138" cy="0" rx="36" ry="31"/><text x="138" y="7">x<tspan dy="3">2</tspan></text></g>
<g id="f-x3"><ellipse cx="275" cy="0" rx="36" ry="31"/><text x="275" y="7">x<tspan dy="3">3</tspan></text></g>
<g id="f-x4"><ellipse cx="419" cy="0" rx="36" ry="31"/><text x="419" y="7">x<tspan dy="3">4</tspan></text></g>
<g id="f-x5"><ellipse cx="0" cy="108" rx="36" ry="31"/><text x="0" y="115">x<tspan dy="3">5</tspan></text></g>
<g id="f-x6"><ellipse cx="138" cy="108" rx="36" ry="31"/><text x="138" y="115">x<tspan dy="3">6</tspan></text></g>
<g id="f-x7"><ellipse cx="275" cy="108" rx="36" ry="31"/><text x="275" y="115">x<tspan dy="3">7</tspan></text></g>
<g id="f-x8"><ellipse cx="419" cy="108" rx="36" ry="31"/><text x="419" y="115">x<tspan dy="3">8</tspan></text></g>
<g id="f-x9"><ellipse cx="0" cy="217" rx="36" ry="31"/><text x="0" y="224">x<tspan dy="3">9</tspan></text></g>
<g id="f-x10"><ellipse cx="138" cy="217" rx="36" ry="31"/><text x="138" y="224">x<tspan dy="3">10</tspan></text></g>
<g id="f-x11"><ellipse cx="275" cy="217" rx="36" ry="31"/><text x="275" y="224">x<tspan dy="3">11</tspan></text></g>
<g id="f-x12"><ellipse cx="419" cy="217" rx="36" ry="31"/><text x="419" y="224">x<tspan dy="3">12</tspan></text></g>
<g id="f-x13"><ellipse cx="0" cy="325" rx="36" ry="31"/><text x="0" y="332">x<tspan dy="3">13</tspan></text></g>
<g id="f-x14"><ellipse cx="138" cy="325" rx="36" ry="31"/><text x="138" y="332">x<tspan dy="3">14</tspan></text></g>
<g id="f-x15"><ellipse cx="275" cy="325" rx="36" ry="31"/><text x="275" y="332">x<tspan dy="3">15</tspan></text></g>
<g id="f-x16"><ellipse cx="419" cy="325" rx="36" ry="31"/><text x="419" y="332">x<tspan dy="3">16</tspan></text></g>
</g>
</g>

<!-- Panel (g) -->
<g id="panel-g" transform="translate(436,1389)">
<g id="g-coalitions">
<rect class="bx" x="-76" y="-32" width="133" height="85" rx="15"/>
<rect class="bx" x="98" y="-31" width="102" height="87" rx="15"/>
<rect class="bx" x="237.6" y="-33" width="101.4" height="87" rx="15"/>
<rect class="bx" x="374" y="-30" width="94.5" height="87" rx="15"/>
<rect class="bx" x="-47" y="73" width="118" height="85" rx="15"/>
<rect class="bx" x="98" y="72" width="103" height="86" rx="15"/>
<rect class="bx" x="237.6" y="68" width="101.4" height="90" rx="15"/>
<rect class="bx" x="374" y="71" width="94.5" height="89" rx="15"/>
<rect class="bx" x="-47" y="185" width="118" height="83" rx="15"/>
<rect class="bx" x="94" y="185" width="107" height="83" rx="15"/>
<rect class="bx" x="237.6" y="186" width="100.4" height="82" rx="15"/>
<rect class="bx" x="374" y="178" width="94.5" height="90" rx="15"/>
<rect class="bx" x="-48" y="288" width="119" height="67" rx="15"/>
<rect class="bx" x="93" y="286" width="109" height="68" rx="15"/>
<rect class="bx" x="237.6" y="286" width="100.4" height="68" rx="15"/>
<rect class="bx" x="380.6" y="288" width="101" height="67" rx="15"/>
</g>
<g id="g-connectors" class="c">
<path d="M-100 0H-36"/><path d="M36 0H102"/><path d="M174 0H239"/><path d="M311 0H383"/>
<path d="M36 108H102"/><path d="M174 108H239"/><path d="M311 108H383"/>
<path d="M36 217H102"/><path d="M174 217H239"/><path d="M311 217H383"/>
<path d="M36 325H102"/><path d="M174 325H239"/><path d="M311 325H383"/><path d="M455 325H524"/>
<path d="M0 31V77"/><path d="M138 31V77"/><path d="M275 31V77"/><path d="M419 31V77"/>
<path d="M0 139V186"/><path d="M138 139V186"/><path d="M275 139V186"/><path d="M419 139V186"/>
<path d="M0 248V294"/><path d="M138 248V294"/><path d="M275 248V294"/><path d="M419 248V294"/>
<text x="-74" y="-5">u<tspan dy="3">25</tspan></text>
<text x="37" y="-5">u<tspan dy="3">1</tspan></text><text x="175" y="-5">u<tspan dy="3">3</tspan></text><text x="312" y="-5">u<tspan dy="3">5</tspan></text>
<text x="3" y="45">u<tspan dy="3">2</tspan></text><text x="141" y="45">u<tspan dy="3">4</tspan></text><text x="278" y="45">u<tspan dy="3">6</tspan></text><text x="422" y="45">u<tspan dy="3">7</tspan></text>
<text x="37" y="103">u<tspan dy="3">8</tspan></text><text x="175" y="103">u<tspan dy="3">10</tspan></text><text x="312" y="103">u<tspan dy="3">12</tspan></text>
<text x="3" y="153">u<tspan dy="3">9</tspan></text><text x="141" y="153">u<tspan dy="3">11</tspan></text><text x="278" y="153">u<tspan dy="3">13</tspan></text><text x="422" y="153">u<tspan dy="3">14</tspan></text>
<text x="37" y="212">u<tspan dy="3">15</tspan></text><text x="175" y="212">u<tspan dy="3">17</tspan></text><text x="312" y="212">u<tspan dy="3">19</tspan></text>
<text x="3" y="262">u<tspan dy="3">16</tspan></text><text x="141" y="262">u<tspan dy="3">18</tspan></text><text x="278" y="262">u<tspan dy="3">20</tspan></text><text x="422" y="262">u<tspan dy="3">21</tspan></text>
<text x="37" y="320">u<tspan dy="3">22</tspan></text><text x="175" y="320">u<tspan dy="3">23</tspan></text><text x="312" y="320">u<tspan dy="3">24</tspan></text><text x="456" y="320">u<tspan dy="3">26</tspan></text>
</g>
<g id="g-nodes" class="nd">
<g id="g-x1"><ellipse cx="0" cy="0" rx="36" ry="31"/><text x="0" y="7">x<tspan dy="3">1</tspan></text></g>
<g id="g-x2"><ellipse cx="138" cy="0" rx="36" ry="31"/><text x="138" y="7">x<tspan dy="3">2</tspan></text></g>
<g id="g-x3"><ellipse cx="275" cy="0" rx="36" ry="31"/><text x="275" y="7">x<tspan dy="3">3</tspan></text></g>
<g id="g-x4"><ellipse cx="419" cy="0" rx="36" ry="31"/><text x="419" y="7">x<tspan dy="3">4</tspan></text></g>
<g id="g-x5"><ellipse cx="0" cy="108" rx="36" ry="31"/><text x="0" y="115">x<tspan dy="3">5</tspan></text></g>
<g id="g-x6"><ellipse cx="138" cy="108" rx="36" ry="31"/><text x="138" y="115">x<tspan dy="3">6</tspan></text></g>
<g id="g-x7"><ellipse cx="275" cy="108" rx="36" ry="31"/><text x="275" y="115">x<tspan dy="3">7</tspan></text></g>
<g id="g-x8"><ellipse cx="419" cy="108" rx="36" ry="31"/><text x="419" y="115">x<tspan dy="3">8</tspan></text></g>
<g id="g-x9"><ellipse cx="0" cy="217" rx="36" ry="31"/><text x="0" y="224">x<tspan dy="3">9</tspan></text></g>
<g id="g-x10"><ellipse cx="138" cy="217" rx="36" ry="31"/><text x="138" y="224">x<tspan dy="3">10</tspan></text></g>
<g id="g-x11"><ellipse cx="275" cy="217" rx="36" ry="31"/><text x="275" y="224">x<tspan dy="3">11</tspan></text></g>
<g id="g-x12"><ellipse cx="419" cy="217" rx="36" ry="31"/><text x="419" y="224">x<tspan dy="3">12</tspan></text></g>
<g id="g-x13"><ellipse cx="0" cy="325" rx="36" ry="31"/><text x="0" y="332">x<tspan dy="3">13</tspan></text></g>
<g id="g-x14"><ellipse cx="138" cy="325" rx="36" ry="31"/><text x="138" y="332">x<tspan dy="3">14</tspan></text></g>
<g id="g-x15"><ellipse cx="275" cy="325" rx="36" ry="31"/><text x="275" y="332">x<tspan dy="3">15</tspan></text></g>
<g id="g-x16"><ellipse cx="419" cy="325" rx="36" ry="31"/><text x="419" y="332">x<tspan dy="3">16</tspan></text></g>
</g>
</g>

<g id="captions" class="cap">
<text x="325" y="434">(a)<tspan dx="8">Big inflow coalition</tspan></text>
<text x="985" y="434">(b)<tspan dx="8">Small inflow coalition</tspan></text>
<text x="325" y="883">(c)<tspan dx="8">Big outflow coalition</tspan></text>
<text x="983" y="883">(d)<tspan dx="8">Small outflow coalition</tspan></text>
<text x="325" y="1333">(e)<tspan dx="8">Control structure with hierarchical relationship</tspan></text>
<text x="981" y="1333">(f)<tspan dx="8">Control structure with information broadcast</tspan></text>
<text x="652" y="1779">(g)<tspan dx="8">Decentralized control structure</tspan></text>
</g>
</svg>
